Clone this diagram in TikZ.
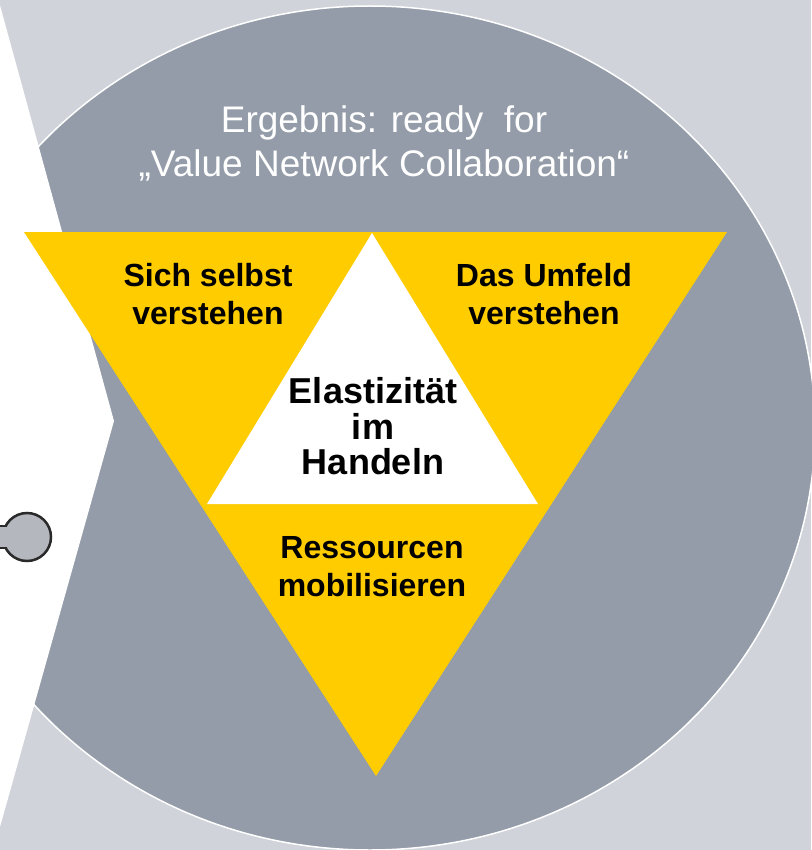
\documentclass[tikz,border=0pt]{standalone}
\usepackage{fontspec}
\setmainfont{Liberation Sans}
\usetikzlibrary{positioning}

\definecolor{pagegray}{HTML}{D0D3DA}
\definecolor{ringgray}{HTML}{939CA8}
\definecolor{knobgray}{HTML}{B4B7BD}
\definecolor{knobline}{HTML}{2A2A2A}
\definecolor{signal}{HTML}{FFCC00}

\begin{document}
\begin{tikzpicture}[x=1pt, y=-1pt,
    field/.style={font=\fontsize{32}{38}\selectfont\bfseries, align=center, inner sep=0pt},
    core/.style={field, font=\fontsize{36}{35.5}\selectfont\bfseries},
    result/.style={font=\fontsize{37}{44}\selectfont, align=center, inner sep=0pt, text=white}]
  \fill[pagegray] (0,0) rectangle (811,850);
  \useasboundingbox (0,0) rectangle (811,850);

  % big disc and the white wedge cut into it
  \draw[white, line width=1.5, fill=ringgray] (370,428) ellipse [x radius=445, y radius=422];
  \fill[white] (-2,-2) -- (114,421) -- (-2,834) -- cycle;

  % knob on the left edge
  \draw[knobline, line width=2.5, fill=knobgray] (27,537) circle [radius=24];
  \fill[knobgray] (-5,527.3) rectangle (9,546.7);
  \draw[knobline, line width=2.5] (-5,526) -- (6,526) (-5,548) -- (6,548);

  % triangles
  \coordinate (tl) at (24,232);
  \coordinate (tr) at (727,232);
  \coordinate (tb) at (376,776);
  \coordinate (wt) at (372,233);
  \coordinate (wl) at (207,504);
  \coordinate (wr) at (538,504);
  \fill[signal] (tl) -- (tr) -- (tb) -- cycle;
  \fill[white] (wt) -- (wr) -- (wl) -- cycle;

  \node[result] (goal) at (384,143.5) {Ergebnis: ready\ \ for\\„Value Network Collaboration“};
  \node[field] (self) at (208,294.5) {Sich selbst\\verstehen};
  \node[field] (env) at (544,294.5) {Das Umfeld\\verstehen};
  \node[core] (elastic) at (373,426.5) {Elastizität\\im\\Handeln};
  \node[field] (res) at (372,566.5) {Ressourcen\\mobilisieren};
\end{tikzpicture}
\end{document}
